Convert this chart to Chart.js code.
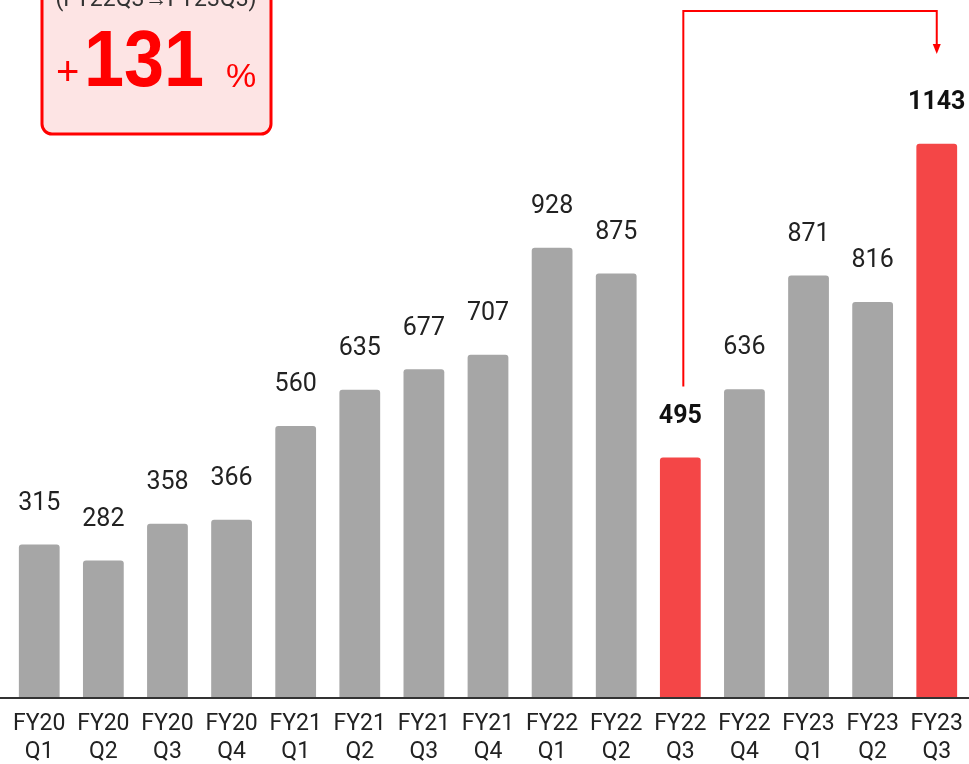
<!DOCTYPE html>
<html><head><meta charset="utf-8">
<script src="https://cdn.jsdelivr.net/npm/chart.js@4.4.0/dist/chart.umd.min.js"></script>
<style>
html,body{margin:0;padding:0;background:#fff;overflow:hidden;}
#wrap{width:976px;height:764px;position:relative;}
</style></head><body>
<div id="wrap"><canvas id="c" width="976" height="764"></canvas></div>
<script>
const fiscalYears = ["FY20","FY20","FY20","FY20","FY21","FY21","FY21","FY21","FY22","FY22","FY22","FY22","FY23","FY23","FY23"];
const quarters = ["Q1","Q2","Q3","Q4","Q1","Q2","Q3","Q4","Q1","Q2","Q3","Q4","Q1","Q2","Q3"];
const values = [315,282,358,366,560,635,677,707,928,875,495,636,871,816,1143];
const highlighted = [10,14];
const growthLabel = "+131";
const growthPeriod = "(FY22Q3\u2192FY23Q3)";

const labels = fiscalYears.map((f,i)=>[f,quarters[i]]);
const GRAY = "#a6a6a6", RED = "#f44647";
const colors = values.map((v,i)=>highlighted.includes(i)?RED:GRAY);

const overlay = {
  id:'overlay',
  afterDatasetsDraw(chart){
    const ctx = chart.ctx;
    const meta = chart.getDatasetMeta(0);
    ctx.save();
    // value labels
    ctx.textAlign='center'; ctx.textBaseline='middle';
    meta.data.forEach((bar,i)=>{
      const bold = highlighted.includes(i);
      ctx.font = bold?'bold 25px Roboto':'25px Roboto';
      ctx.fillStyle = bold?'#111':'#222';
      ctx.fillText(String(values[i]), bar.x, bar.y-41);
    });
    // axis line full width
    ctx.fillStyle='#333';
    ctx.fillRect(0, chart.chartArea.bottom, chart.width, 2);
    // arrow
    const a = meta.data[highlighted[0]], b = meta.data[highlighted[1]];
    const x1 = a.x+3, x2 = b.x;
    const yStart = a.y-71, yTop = 11, yEnd = 54;
    ctx.strokeStyle='#ff0000'; ctx.lineWidth=2;
    ctx.beginPath();
    ctx.moveTo(x1,yStart); ctx.lineTo(x1,yTop); ctx.lineTo(x2,yTop); ctx.lineTo(x2,yEnd-8);
    ctx.stroke();
    ctx.fillStyle='#ff0000';
    ctx.beginPath();
    ctx.moveTo(x2-4,yEnd-10); ctx.lineTo(x2+4,yEnd-10); ctx.lineTo(x2,yEnd); ctx.closePath(); ctx.fill();
    // growth box
    const bx=42, by=-30, bw=229, bh=164, r=10;
    ctx.beginPath();
    ctx.roundRect(bx,by,bw,bh,r);
    ctx.fillStyle='#fde4e4'; ctx.fill();
    ctx.lineWidth=3; ctx.strokeStyle='#ff0000'; ctx.stroke();
    ctx.fillStyle='#333'; ctx.font='23px Roboto'; ctx.textAlign='center'; ctx.textBaseline='alphabetic';
    ctx.fillText(growthPeriod, 156, 6);
    ctx.fillStyle='#ff0000';
    ctx.font='40px "Liberation Sans"'; ctx.textAlign='left';
    ctx.fillText('+', 56, 85);
    ctx.save();
    ctx.translate(84,86); ctx.scale(0.9,1);
    ctx.font='bold 80px "Liberation Sans"';
    ctx.fillText(growthLabel.slice(1), 0, 0);
    ctx.restore();
    ctx.font='34px "Liberation Sans"';
    ctx.fillText('%', 226, 87);
    ctx.restore();
  }
};

new Chart(document.getElementById('c'), {
  type:'bar',
  data:{labels, datasets:[{data:values, backgroundColor:colors, borderRadius:3, borderSkipped:'bottom',
    barPercentage:0.636, categoryPercentage:1}]},
  options:{
    responsive:false, animation:false,
    layout:{padding:{left:4,right:5,top:0,bottom:0}},
    plugins:{legend:{display:false}, tooltip:{enabled:false}},
    scales:{
      y:{display:false, min:0, max:1440},
      x:{
        grid:{display:false, drawTicks:false},
        border:{display:false},
        afterFit(scale){ scale.height = 67; },
        ticks:{color:'#222', font:{family:'Roboto', size:23, lineHeight:1.22}, padding:13, maxRotation:0, autoSkip:false}
      }
    }
  },
  plugins:[overlay]
});
</script></body></html>
